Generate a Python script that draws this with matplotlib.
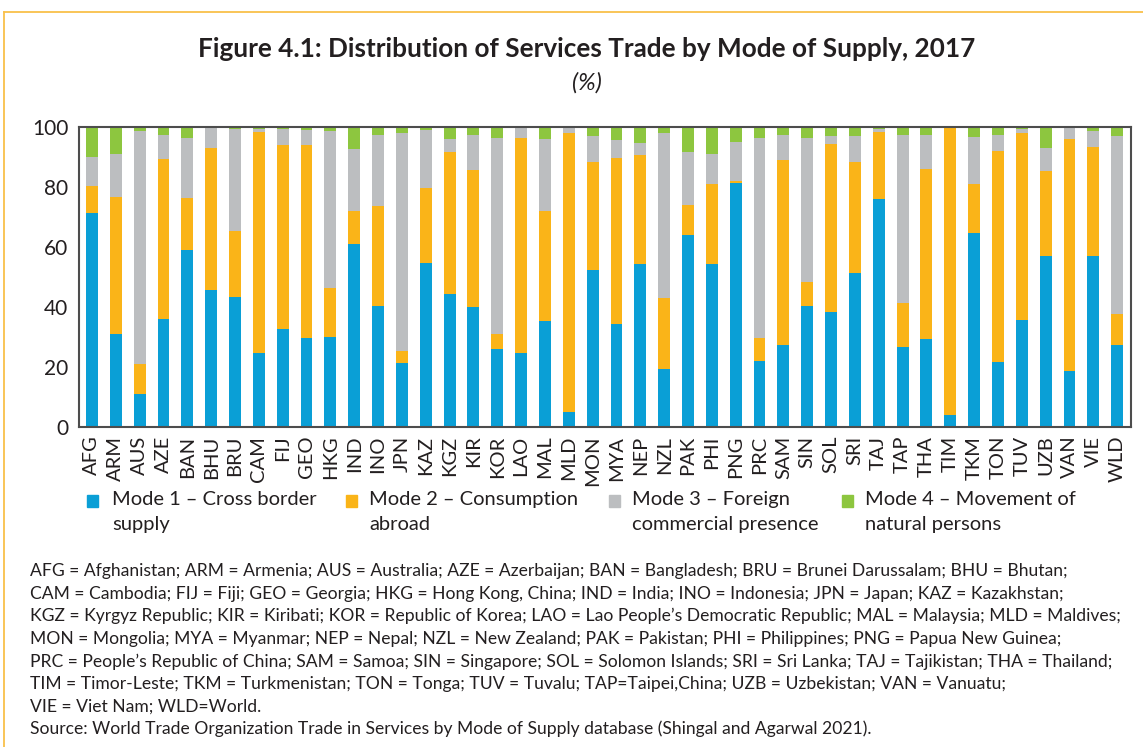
import matplotlib
matplotlib.use("Agg")
import matplotlib.pyplot as plt
from matplotlib.patches import Rectangle
from matplotlib.lines import Line2D
import numpy as np

plt.rcParams['font.family'] = ['Lato', 'DejaVu Sans']

# Economy codes along the x axis
economies = ["AFG", "ARM", "AUS", "AZE", "BAN", "BHU", "BRU", "CAM", "FIJ", "GEO",
             "HKG", "IND", "INO", "JPN", "KAZ", "KGZ", "KIR", "KOR", "LAO", "MAL",
             "MLD", "MON", "MYA", "NEP", "NZL", "PAK", "PHI", "PNG", "PRC", "SAM",
             "SIN", "SOL", "SRI", "TAJ", "TAP", "THA", "TIM", "TKM", "TON", "TUV",
             "UZB", "VAN", "VIE", "WLD"]

# Shares of services trade by mode of supply (%)
mode1 = [71.4, 31.2, 11.1, 36.1, 59.0, 45.7, 43.3, 24.8, 32.7, 29.7,
         30.2, 61.1, 40.4, 21.5, 54.8, 44.3, 40.0, 26.1, 24.8, 35.4,
         5.0, 52.3, 34.3, 54.3, 19.4, 64.0, 54.3, 81.4, 22.2, 27.5,
         40.4, 38.4, 51.3, 76.1, 26.8, 29.5, 4.2, 64.7, 21.7, 35.7,
         56.9, 18.8, 56.9, 27.5]
mode2 = [8.9, 45.5, 10.0, 53.3, 17.3, 47.2, 22.1, 73.4, 61.3, 64.3,
         16.1, 11.0, 33.2, 4.0, 24.8, 47.3, 45.6, 4.9, 71.4, 36.7,
         93.0, 35.9, 55.3, 36.4, 23.6, 10.1, 26.6, 0.6, 7.5, 61.4,
         7.9, 55.8, 36.9, 22.1, 14.7, 56.5, 95.8, 16.2, 70.3, 62.3,
         28.5, 77.2, 36.4, 10.2]
mode3 = [9.6, 14.2, 77.5, 7.8, 19.9, 7.1, 34.0, 1.2, 5.2, 4.9,
         52.3, 20.5, 23.6, 72.5, 19.3, 4.3, 11.6, 65.2, 3.8, 23.8,
         2.0, 8.7, 6.0, 3.9, 55.0, 17.5, 10.0, 12.9, 66.5, 8.3,
         47.9, 2.7, 8.7, 1.2, 55.7, 11.2, 0.0, 15.7, 5.2, 1.4,
         7.5, 3.6, 5.4, 59.2]
mode4 = [10.1, 9.1, 1.4, 2.8, 3.8, 0.0, 0.6, 0.6, 0.8, 1.1,
         1.4, 7.4, 2.8, 2.0, 1.1, 4.1, 2.8, 3.8, 0.0, 4.1,
         0.0, 3.1, 4.4, 5.4, 2.0, 8.4, 9.1, 5.1, 3.8, 2.8,
         3.8, 3.1, 3.1, 0.6, 2.8, 2.8, 0.0, 3.4, 2.8, 0.6,
         7.1, 0.4, 1.3, 3.1]

mode_labels = ["Mode 1 \u2013 Cross border\nsupply",
               "Mode 2 \u2013 Consumption\nabroad",
               "Mode 3 \u2013 Foreign\ncommercial presence",
               "Mode 4 \u2013 Movement of\nnatural persons"]
colors = ["#0A9FD6", "#FAB418", "#BCBEC0", "#8DC63F"]

y_ticks = [0, 20, 40, 60, 80, 100]

notes = [
    "AFG = Afghanistan; ARM = Armenia; AUS = Australia; AZE = Azerbaijan; BAN = Bangladesh; BRU = Brunei Darussalam; BHU = Bhutan;",
    "CAM = Cambodia; FIJ = Fiji; GEO = Georgia; HKG = Hong Kong, China; IND = India; INO = Indonesia; JPN = Japan; KAZ = Kazakhstan;",
    "KGZ = Kyrgyz Republic; KIR = Kiribati; KOR = Republic of Korea; LAO = Lao People\u2019s Democratic Republic; MAL = Malaysia; MLD = Maldives;",
    "MON = Mongolia; MYA = Myanmar; NEP = Nepal; NZL = New Zealand; PAK = Pakistan; PHI = Philippines; PNG = Papua New Guinea;",
    "PRC = People\u2019s Republic of China; SAM = Samoa; SIN = Singapore; SOL = Solomon Islands; SRI = Sri Lanka; TAJ = Tajikistan; THA = Thailand;",
    "TIM = Timor-Leste; TKM = Turkmenistan; TON = Tonga; TUV = Tuvalu; TAP=Taipei,China; UZB = Uzbekistan; VAN = Vanuatu;",
    "VIE = Viet Nam; WLD=World.",
    "Source: World Trade Organization Trade in Services by Mode of Supply database (Shingal and Agarwal 2021).",
]

W, H = 1143, 747
fig = plt.figure(figsize=(W / 100, H / 100), dpi=100)


def fx(px):
    return px / W


def fy(py):
    return 1 - py / H


# thin orange frame around the figure
fig.add_artist(Line2D([fx(4), 1], [fy(12), fy(12)], color="#F9C04A", lw=1.3))
fig.add_artist(Line2D([fx(4), fx(4)], [fy(12), 0], color="#F9C04A", lw=1.3))

ax = fig.add_axes([fx(79.3), fy(427.3), fx(1131) - fx(79.3), fy(127) - fy(427.3)])

x = np.arange(len(economies))
bottom = np.zeros(len(economies))
for vals, col in zip([mode1, mode2, mode3, mode4], colors):
    vals = np.array(vals)
    ax.bar(x, vals, width=0.5, bottom=bottom, color=col, linewidth=0)
    bottom += vals

ax.set_xlim(-0.53, 43.58)
ax.set_ylim(0, 100)
ax.set_yticks(y_ticks)
ax.set_yticklabels([str(t) for t in y_ticks], fontsize=15, color="#231F20")
ax.set_xticks(x)
ax.set_xticklabels(economies, rotation=90, fontsize=14.5, color="#231F20")
ax.tick_params(axis="both", length=0)
ax.tick_params(axis="y", pad=8)
ax.tick_params(axis="x", pad=6)
for s in ax.spines.values():
    s.set_color("#4D4D4D")
    s.set_linewidth(1.5)

# title and unit
fig.text(fx(587), fy(49), "Figure 4.1: Distribution of Services Trade by Mode of Supply, 2017",
         ha="center", va="center", fontsize=18.8, fontweight="bold", color="#231F20")
fig.text(fx(587), fy(83), "(%)", ha="center", va="center", fontsize=17,
         style="italic", color="#231F20")

# legend drawn below the axes
sq_x = [87, 346, 609, 842]
txt_x = [112, 369, 632, 865]
for sx, tx, lab, col in zip(sq_x, txt_x, mode_labels, colors):
    fig.add_artist(Rectangle((fx(sx), fy(507)), fx(11), 12 / H, color=col,
                             transform=fig.transFigure))
    fig.text(fx(tx), fy(491), lab, ha="left", va="top", fontsize=14.5,
             color="#231F20", linespacing=1.6)

# notes and source
for i, line in enumerate(notes):
    fig.text(fx(30), fy(571 + i * 22.6), line, ha="left", va="center",
             fontsize=12.6, color="#231F20")

fig.savefig("out.png", dpi=100)
